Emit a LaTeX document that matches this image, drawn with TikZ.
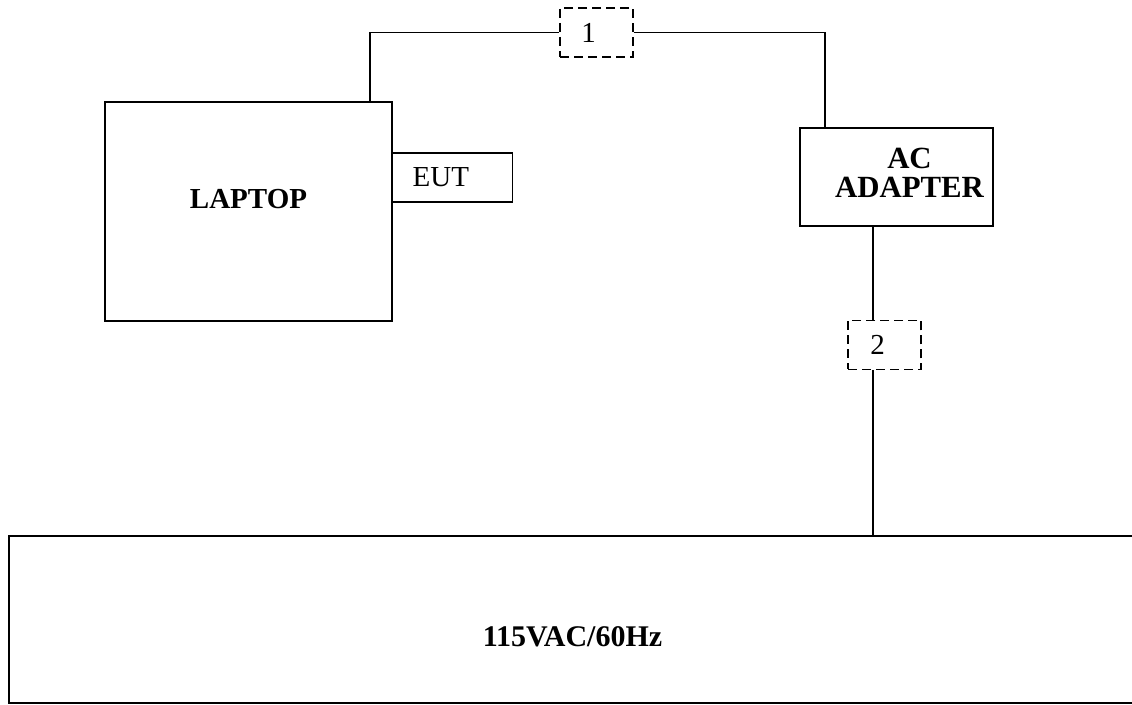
\documentclass[tikz,border=0pt]{standalone}
\usepackage{fontspec}
\setmainfont{Liberation Serif}
\usetikzlibrary{positioning}

\begin{document}
\begin{tikzpicture}[
  x=0.5pt, y=-0.5pt,
  font=\fontsize{14.5}{15}\selectfont,
  box/.style={draw, line width=0.7pt, inner sep=0pt},
  cable/.style={box, dashed, dash pattern=on 4.5pt off 2.5pt},
  lbl/.style={font=\fontsize{14.5}{15}\selectfont\bfseries, align=center},
  wire/.style={draw, line width=0.7pt}
]
  \useasboundingbox (0,0) rectangle (1132,705);
  \node[box, minimum width=143.5pt, minimum height=109.5pt,
        label={[lbl, yshift=6pt]center:LAPTOP}] (laptop) at (248.5,211.5) {};
  \node[box, anchor=west, minimum height=24.5pt, text width=40pt,
        inner xsep=10pt, align=left] (eut) at (392,177.5) {EUT};
  \node[box, minimum width=96.5pt, minimum height=49pt,
        label={[lbl, font=\fontsize{15.4}{14.5}\selectfont\bfseries, xshift=6.5pt, yshift=2pt]center:AC\\ADAPTER}] (adapter) at (896.5,177) {};
  \node[cable, minimum width=36.5pt, minimum height=24.5pt,
        label={[xshift=-4pt]center:1}] (c1) at (596.5,32.5) {};
  \node[cable, minimum width=36.5pt, minimum height=24.5pt,
        label={[xshift=-3.5pt]center:2}] (c2) at (884.5,345) {};
  \node[box, line width=1pt, minimum width=565.5pt, minimum height=83.75pt,
        label={[lbl, font=\fontsize{15}{15}\selectfont\bfseries, xshift=-1pt, yshift=-8.5pt]center:115VAC/60Hz}] (mains) at (574.5,619.75) {};

  \coordinate (lt) at (370,102);
  \coordinate (ac) at (825,128);
  \coordinate (dc) at (873,226);

  \draw[wire] (lt) |- (c1.west);
  \draw[wire] (c1.east) -| (ac);
  \draw[wire] (dc) -- (dc |- c2.north);
  \draw[wire] (c2.south -| dc) -- (dc |- mains.north);
\end{tikzpicture}
\end{document}
